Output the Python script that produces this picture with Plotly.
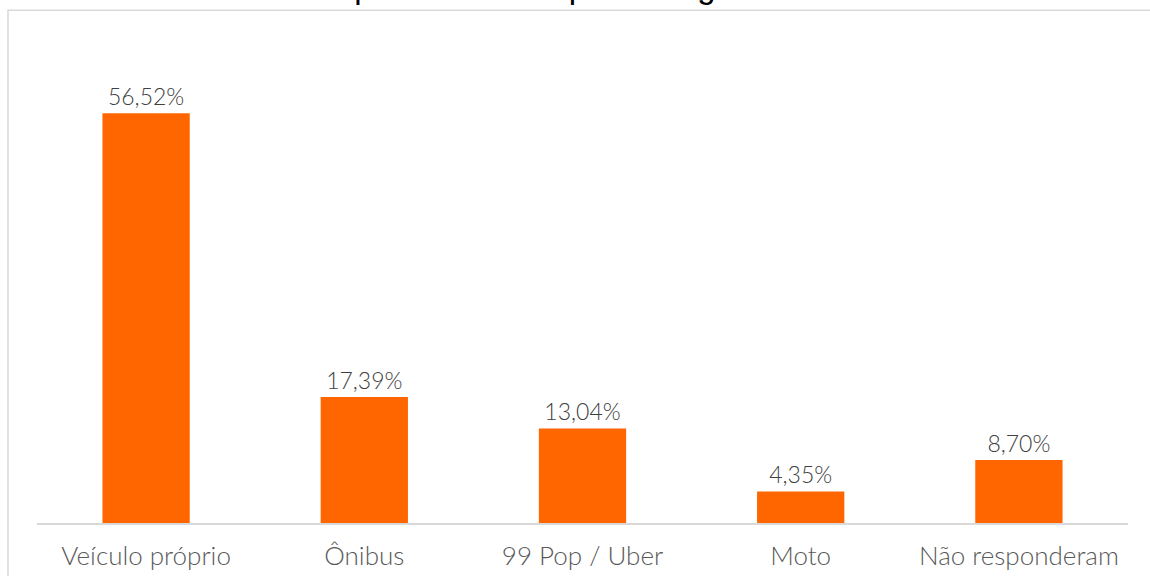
import plotly.graph_objects as go

categories = ["Veículo próprio", "Ônibus", "99 Pop / Uber", "Moto", "Não responderam"]
shares = [56.52, 17.39, 13.04, 4.35, 8.70]
share_labels = ["56,52%", "17,39%", "13,04%", "4,35%", "8,70%"]

TITLE = "Gráfico 3. Meio de transporte utilizado para chegar em Goiânia"
ORANGE = "#FF6600"
LABEL_FONT = "Lato, 'DejaVu Sans', sans-serif"

fig = go.Figure(
    go.Bar(
        x=categories,
        y=shares,
        text=share_labels,
        textposition="outside",
        cliponaxis=False,
        textfont=dict(size=23, color="#404040", family=LABEL_FONT, weight=300),
        marker=dict(color=ORANGE, line=dict(width=0)),
        hoverinfo="x+y",
    )
)

# Chart frame: only its top and left edges are inside the cropped picture.
fig.add_shape(
    type="rect", xref="paper", yref="paper",
    x0=-0.0266, x1=1.2, y0=-0.5, y1=1.179,
    line=dict(color="#D9D9D9", width=1.5), layer="below",
)

# Title sits above the crop, only its lower part shows.
fig.add_annotation(
    text=TITLE, xref="paper", yref="paper", x=-0.034, y=1.186,
    xanchor="left", yanchor="bottom", showarrow=False,
    font=dict(size=33, color="#000000", family="'Liberation Sans', Arial, sans-serif"),
)

fig.update_layout(
    width=1150,
    height=576,
    margin=dict(l=37, r=22, t=88, b=53),
    paper_bgcolor="white",
    plot_bgcolor="white",
    bargap=0.6,
    showlegend=False,
    xaxis=dict(
        showline=True, linecolor="#D9D9D9", linewidth=1.5,
        ticks="", ticklabelstandoff=9, automargin=False,
        tickfont=dict(size=26, color="#595959", family=LABEL_FONT, weight=300),
        showgrid=False,
    ),
    yaxis=dict(range=[0, 60], visible=False, showgrid=False, automargin=False),
)

# Drop the browser's default body margin so the figure fills the window.
fig.write_html(
    "out.html",
    config={"displayModeBar": False},
    post_script="document.body.style.margin = '0';",
)
